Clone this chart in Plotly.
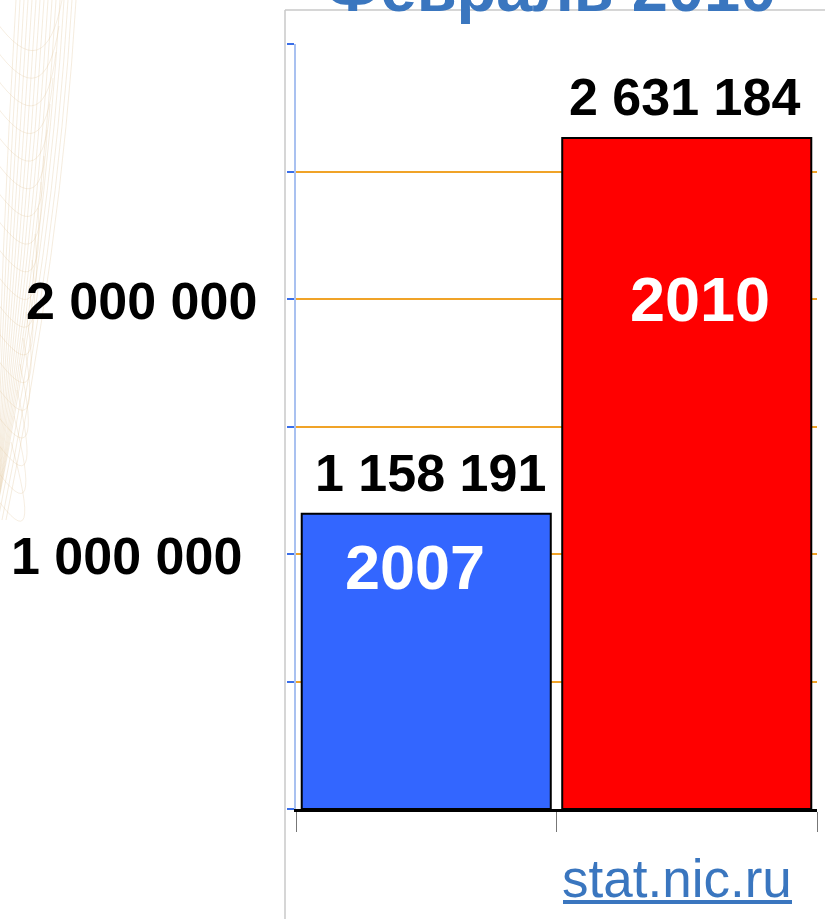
import plotly.graph_objects as go

# ---- data ----
years = ["2007", "2010"]
domains = [1158191, 2631184]
bar_colors = ["#3366ff", "#ff0000"]
ytick_vals = [1000000, 2000000]
title_text = "Февраль 2010"
source_text = "stat.nic.ru"

FONT = "Liberation Sans, Arial, sans-serif"
W, H = 825, 919
L, R, T, B = 296, 8, 44, 110
PW, PH = W - L - R, H - T - B


def px_x(p):
    return (p - L) / PW


def px_y(p):
    return (H - B - p) / PH


def fmt(v):
    return f"{v:,}".replace(",", " ")


fig = go.Figure()
fig.add_trace(go.Bar(
    x=years, y=domains,
    marker=dict(color=bar_colors, line=dict(color="#000000", width=2)),
    hoverinfo="skip",
))

annotations = []
# value labels above bars
value_xshift = [4, -2]
for i, (v, xs) in enumerate(zip(domains, value_xshift)):
    annotations.append(dict(
        x=i, y=v, xref="x", yref="y", text=fmt(v), showarrow=False,
        yanchor="middle", yshift=41, xshift=xs,
        font=dict(family=FONT, size=52, color="#000000", weight="bold"),
    ))
# year labels inside bars
inside_pos = [(0.95e6, -11), (2.0e6, 13)]
for i, (yr, (yy, xs)) in enumerate(zip(years, inside_pos)):
    annotations.append(dict(
        x=i, y=yy, xref="x", yref="y", text=yr, showarrow=False,
        yanchor="middle", xshift=xs,
        font=dict(family=FONT, size=63, color="#ffffff", weight="bold"),
    ))
# y tick labels (bold, outside)
tick_right = [244, 259]
for tv, rx in zip(ytick_vals, tick_right):
    annotations.append(dict(
        x=px_x(rx), y=tv, xref="paper", yref="y", text=fmt(tv), showarrow=False,
        xanchor="right", yanchor="middle", yshift=-2,
        font=dict(family=FONT, size=52, color="#000000", weight="bold"),
    ))
# title (cut at top)
annotations.append(dict(
    x=px_x(550), y=px_y(27), xref="paper", yref="paper", text=title_text,
    showarrow=False, xanchor="center", yanchor="bottom",
    font=dict(family=FONT, size=65, color="#3a76bf", weight="bold"),
))
# source link
annotations.append(dict(
    x=px_x(677), y=px_y(879), xref="paper", yref="paper",
    text=source_text, showarrow=False,
    xanchor="center", yanchor="middle",
    font=dict(family=FONT, size=53, color="#3a76bf"),
))

shapes = [
    # chart frame (light grey)
    dict(type="line", xref="paper", yref="paper", x0=px_x(285), x1=px_x(285),
         y0=px_y(10), y1=px_y(919), line=dict(color="#c8c8c8", width=1.5)),
    dict(type="line", xref="paper", yref="paper", x0=px_x(285), x1=px_x(825),
         y0=px_y(10), y1=px_y(10), line=dict(color="#c8c8c8", width=1.5)),
    # link underline
    dict(type="line", xref="paper", yref="paper", x0=px_x(563), x1=px_x(792),
         y0=px_y(902), y1=px_y(902), line=dict(color="#3a76bf", width=4)),
]

# faint decorative guilloche on the far left
for i in range(16):
    a = 6 + i * 4
    shapes.append(dict(
        type="path", xref="paper", yref="paper",
        path=(f"M {px_x(a + 10)} {px_y(0)} Q {px_x(a - 5)} {px_y(250)} "
              f"{px_x(max(a - 60, -5))} {px_y(520)}"),
        line=dict(color="rgba(225,200,160,0.35)", width=1),
    ))
for i in range(18):
    shapes.append(dict(
        type="path", xref="paper", yref="paper",
        path=(f"M {px_x(-5)} {px_y(20 + i * 28)} Q {px_x(45)} {px_y(90 + i * 28)} "
              f"{px_x(62 - i * 3)} {px_y(i * 26)}"),
        line=dict(color="rgba(225,200,160,0.3)", width=1),
    ))

fig.update_layout(
    width=W, height=H,
    margin=dict(l=L, r=R, t=T, b=B, pad=0),
    paper_bgcolor="#ffffff", plot_bgcolor="#ffffff",
    showlegend=False, bargap=0.044,
    annotations=annotations, shapes=shapes,
    xaxis=dict(
        type="category", range=[-0.5, 1.5], showticklabels=False,
        ticks="outside", tickson="boundaries", ticklen=20, tickwidth=1,
        tickcolor="#777777", showline=True, linecolor="#000000", linewidth=3,
        showgrid=False, zeroline=False,
    ),
    yaxis=dict(
        range=[0, 3000000], dtick=500000, showticklabels=False,
        ticks="outside", ticklen=7, tickwidth=2, tickcolor="#3a6ee8",
        showline=True, linecolor="#a9c1f0", linewidth=2,
        showgrid=True, gridcolor="#f0a328", gridwidth=2, zeroline=False,
    ),
)

fig.write_html(
    "out.html",
    config={"displayModeBar": False},
    post_script="document.body.style.margin='0';document.body.style.overflow='hidden';",
)
